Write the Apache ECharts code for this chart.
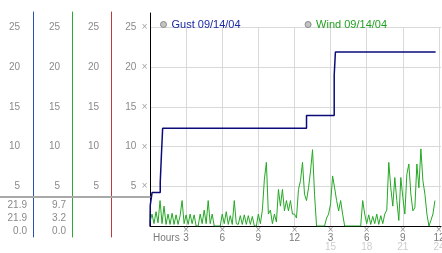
<!DOCTYPE html>
<html><head><meta charset="utf-8">
<style>html,body{margin:0;padding:0;background:#fff}#c{width:442px;height:253px}</style>
<script src="https://cdn.jsdelivr.net/npm/echarts@6/dist/echarts.min.js"></script>
</head><body><div id="c"></div>
<script>
// ---------- data ----------
const gustName = 'Gust 09/14/04';
const windName = 'Wind 09/14/04';
const clockLabels = {3:'3', 6:'6', 9:'9', 12:'12', 15:'3', 18:'6', 21:'9', 24:'12'};
const hour24Labels = {15:'15', 18:'18', 21:'21', 24:'24'};
const firstAxisLabel = 'Hours';

// peak gust (step line), hours since midnight
const gustHours  = [0, 0.02, 0.17, 0.85, 0.95, 1.05, 13.0, 15.3, 15.4, 23.72];
const gustValues = [0, 2.6, 4.2, 5.5, 9.0, 12.3, 13.9, 19.0, 21.9, 21.9];

// wind speed, one reading every 10 minutes from 00:00
const windStepHours = 1 / 6;
const windValues = [
  0.5, 1.5, 0.3, 1.8, 0.4, 3.2,   // 0h
  0.3, 2.5, 0.2, 1.5, 0.2, 1.6,   // 1h
  0.2, 1.4, 0.2, 1.3, 3.2, 0.3,   // 2h
  1.4, 0.2, 1.5, 0.3, 1.4, 0.0,   // 3h
  0.0, 1.5, 0.3, 2.0, 0.3, 3.2,   // 4h
  0.3, 1.5, 0.0, 0.0, 0.0, 0.0,   // 5h
  1.5, 0.3, 1.8, 0.2, 1.3, 0.2,   // 6h
  3.2, 0.3, 0.2, 1.3, 0.2, 1.4,   // 7h
  0.2, 1.3, 0.2, 1.2, 0.0, 0.0,   // 8h
  1.5, 0.3, 2.0, 5.9, 8.0, 1.5,   // 9h
  2.0, 0.3, 1.5, 0.5, 4.6, 2.5,   // 10h
  4.6, 1.9, 3.2, 1.9, 3.2, 1.5,   // 11h
  1.5, 1.0, 4.6, 5.7, 8.0, 4.0,   // 12h
  3.2, 4.8, 6.9, 9.6, 4.0, 0.0,   // 13h
  0.0, 0.0, 0.0, 0.0, 1.0, 1.5,   // 14h
  2.8, 6.3, 4.8, 3.2, 1.9, 3.2,   // 15h
  1.5, 0.0, 0.0, 0.0, 0.0, 0.0,   // 16h
  0.0, 0.0, 0.0, 0.0, 3.2, 1.5,   // 17h
  0.3, 1.4, 0.2, 1.2, 0.3, 1.5,   // 18h
  0.2, 1.3, 0.3, 1.5, 2.0, 8.0,   // 19h
  4.8, 2.5, 6.1, 3.2, 0.7, 6.1,   // 20h
  3.6, 1.5, 6.5, 7.8, 4.0, 1.9,   // 21h
  2.3, 7.8, 4.8, 9.7, 5.7, 4.0,   // 22h
  1.5, 0.0, 0.7, 1.5, 3.2         // 23h
];

// ---------- derived ----------
const gustData = gustHours.map((h, i) => [h, gustValues[i]]);
const windData = windValues.map((v, i) => [i * windStepHours, v]);
const stats = arr => [Math.max(...arr), arr[arr.length - 1], Math.min(...arr)].map(v => v.toFixed(1));
const gustStats = stats(gustValues);
const windStats = stats(windValues);

const FONT = 'Liberation Sans';
const GRID_GRAY = '#d9d9d9';
const LABEL_GRAY = '#8a8a8a';
const MARK_GRAY = '#a0a0a0';
const BLUE_COL = '#2850b0', GREEN_COL = '#2ea82e', RED_COL = '#c03838';
const GUST_COLOR = '#0b0b78', WIND_COLOR = '#25a825';

const yLab = v => (v === 0 ? '' : String(v));

function sideAxis(offset, margin) {
  return {
    gridIndex: 0, type: 'value', min: 0, max: 25, interval: 5, position: 'left', offset: offset,
    axisLine: {show: false, onZero: false}, axisTick: {show: false}, splitLine: {show: false},
    axisLabel: {margin: margin, color: LABEL_GRAY, fontFamily: FONT, fontSize: 10, formatter: yLab}
  };
}
function lineAxis(grid, offset, color) {
  return {
    gridIndex: grid, type: 'value', min: 0, max: 1, position: 'left', offset: offset,
    axisLine: {show: true, onZero: false, lineStyle: {color: color, width: 1}},
    axisTick: {show: false}, axisLabel: {show: false}, splitLine: {show: false}
  };
}
function readoutAxis(offset, vals) {
  return {
    gridIndex: 3, type: 'category', inverse: true, data: ['max', 'last', 'min'],
    position: 'left', offset: offset,
    axisLine: {show: false, onZero: false}, axisTick: {show: false}, splitLine: {show: false},
    axisLabel: {interval: 0, margin: 6, color: LABEL_GRAY, fontFamily: FONT, fontSize: 10,
      formatter: (v, i) => vals[i]}
  };
}

const chart = echarts.init(document.getElementById('c'), null, {renderer: 'canvas'});
chart.setOption({
  animation: false,
  backgroundColor: '#ffffff',
  legend: {
    left: 155, top: 14, itemGap: 64, itemWidth: 6, itemHeight: 6,
    textStyle: {fontFamily: FONT, fontSize: 11},
    data: [
      {name: gustName, icon: 'circle', itemStyle: {color: '#c4c4c4', borderColor: '#888', borderWidth: 1},
       textStyle: {color: '#1a2aa0'}},
      {name: windName, icon: 'circle', itemStyle: {color: '#c4c4c4', borderColor: '#888', borderWidth: 1},
       textStyle: {color: '#22a022'}}
    ]
  },
  grid: [
    {left: 150, top: 27.3, width: 291, height: 198.7, outerBoundsMode: 'none', containLabel: false},
    {left: 150, top: 12, width: 291, height: 225, outerBoundsMode: 'none', containLabel: false},
    {left: 150, top: 13, width: 291, height: 213, outerBoundsMode: 'none', containLabel: false},
    {left: 150, top: 198.5, width: 291, height: 39, outerBoundsMode: 'none', containLabel: false},
    {left: 0, top: 197, width: 150, height: 10, outerBoundsMode: 'none', containLabel: false}
  ],
  xAxis: [
    {
      gridIndex: 0, type: 'value', min: 0, max: 24.17, interval: 3,
      axisLine: {show: true, onZero: false, lineStyle: {color: '#000', width: 1}},
      axisTick: {show: false},
      splitLine: {show: true, showMinLine: false, showMaxLine: false, lineStyle: {color: GRID_GRAY, width: 1}},
      axisLabel: {
        margin: 0, interval: 0, showMaxLabel: false, alignMinLabel: 'left', fontFamily: FONT,
        formatter: v => {
          if (v === 0) return '{e| }\n{h|' + firstAxisLabel + '}';
          if (!(v in clockLabels)) return '';
          let s = '{m|×}\n{a|' + clockLabels[v] + '}';
          if (v in hour24Labels) s += '\n{b|' + hour24Labels[v] + '}';
          return s;
        },
        rich: {
          e: {fontFamily: FONT, fontSize: 8, lineHeight: 8, color: '#ffffff'},
          m: {fontFamily: 'DejaVu Sans', fontSize: 8, lineHeight: 8, color: '#909090'},
          a: {fontFamily: FONT, fontSize: 10, lineHeight: 9, color: '#7a7a7a'},
          b: {fontFamily: FONT, fontSize: 10, lineHeight: 8, color: '#cdcdcd'},
          h: {fontFamily: FONT, fontSize: 10, lineHeight: 9, color: '#7a7a7a', padding: [0, 0, 0, 3]}
        }
      }
    },
    {gridIndex: 1, type: 'value', min: 0, max: 1, show: false},
    {gridIndex: 2, type: 'value', min: 0, max: 1, show: false},
    {gridIndex: 3, type: 'value', min: 0, max: 1, show: false},
    {gridIndex: 4, type: 'value', min: 0, max: 1, position: 'top',
     axisLine: {show: true, onZero: false, lineStyle: {color: '#a9a9a9', width: 2}},
     axisTick: {show: false}, axisLabel: {show: false}, splitLine: {show: false}}
  ],
  yAxis: [
    {
      gridIndex: 0, type: 'value', min: 0, max: 25, interval: 5, position: 'left',
      axisLine: {show: false, onZero: false}, axisTick: {show: false},
      splitLine: {show: true, showMinLine: false, lineStyle: {color: GRID_GRAY, width: 1}},
      axisLabel: {
        margin: 2, fontFamily: FONT,
        formatter: v => (v === 0 ? '' : '{a|' + v + '}{m|×}'),
        rich: {
          a: {fontFamily: FONT, fontSize: 10, color: LABEL_GRAY},
          m: {fontFamily: 'DejaVu Sans', fontSize: 8, color: MARK_GRAY, padding: [0, 0, 0, 5]}
        }
      }
    },
    sideAxis(39, 12),
    sideAxis(78, 12),
    sideAxis(117, 13),
    lineAxis(1, 39, RED_COL),
    lineAxis(1, 78, GREEN_COL),
    lineAxis(1, 117, BLUE_COL),
    lineAxis(2, 0, '#000000'),
    readoutAxis(117, gustStats),
    readoutAxis(78, windStats),
    {gridIndex: 4, type: 'value', min: 0, max: 1, show: false}
  ],
  series: [
    {
      name: gustName, type: 'line', xAxisIndex: 0, yAxisIndex: 0, step: 'end',
      data: gustData, showSymbol: false, symbol: 'none', z: 3,
      lineStyle: {color: GUST_COLOR, width: 1.5}, itemStyle: {color: GUST_COLOR}
    },
    {
      name: windName, type: 'line', xAxisIndex: 0, yAxisIndex: 0,
      data: windData, showSymbol: false, symbol: 'none', z: 2,
      lineStyle: {color: WIND_COLOR, width: 1}, itemStyle: {color: WIND_COLOR}
    }
  ]
});
</script>
</body></html>
